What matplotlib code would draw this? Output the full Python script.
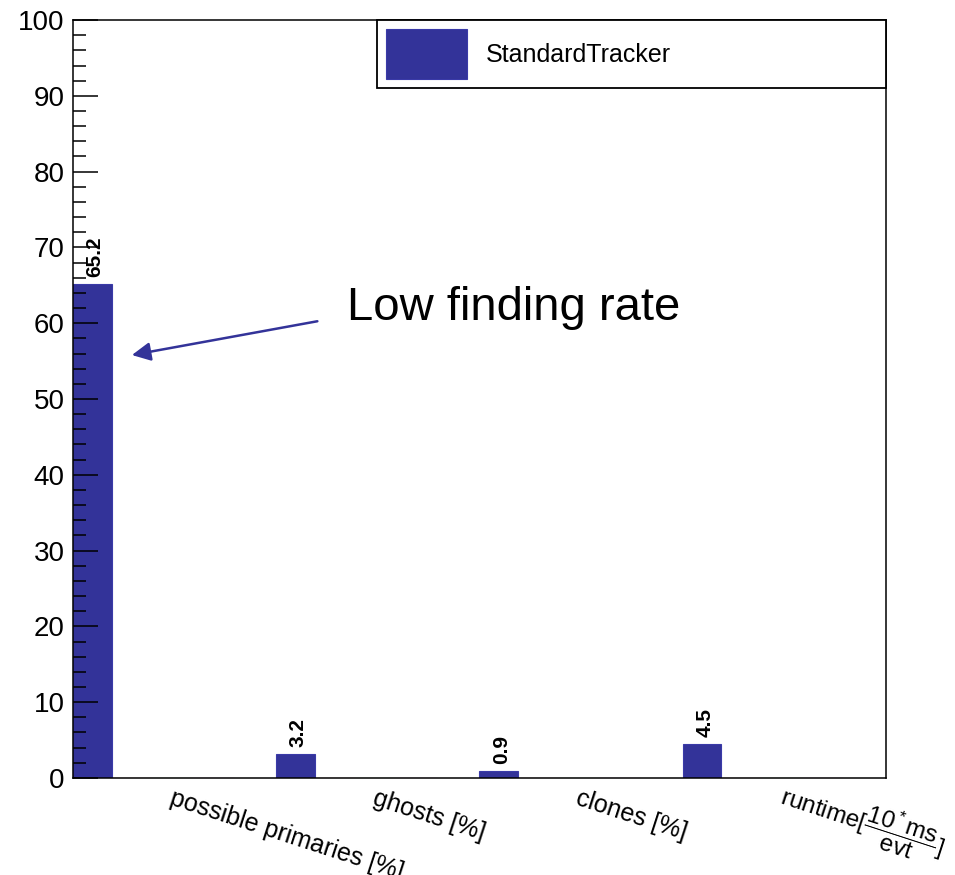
import numpy as np
import matplotlib.pyplot as plt
from matplotlib.ticker import MultipleLocator

plt.rcParams['font.family'] = ['Liberation Sans', 'DejaVu Sans']
plt.rcParams['mathtext.fontset'] = 'custom'
plt.rcParams['mathtext.rm'] = 'Liberation Sans'
plt.rcParams['mathtext.it'] = 'Liberation Sans'

# data
categories = ['possible primaries [%]', 'ghosts [%]', 'clones [%]',
              r'runtime[$\dfrac{\mathrm{10{^*}ms}}{\mathrm{evt}}$]']
standard_tracker = [65.2, 3.2, 0.9, 4.5]
value_labels = ['65.2', '3.2', '0.9', '4.5']
other_trackers = [[0, 0, 0, 0], [0, 0, 0, 0], [0, 0, 0, 0]]
other_colors = ['#cc3333', '#339933', '#993399']

bar_col = '#333399'
x = np.arange(len(categories))
w = 0.19

fig = plt.figure(figsize=(9.55, 8.75), dpi=100)
ax = fig.add_axes([0.0764, 0.1109, 0.8513, 0.8662])

bars = ax.bar(x, standard_tracker, width=w, align='edge', color=bar_col,
              edgecolor='#3a3aa8', linewidth=0.8, label='StandardTracker')
for k, vals in enumerate(other_trackers):
    ax.bar(x + w + 0.2 * k, vals, width=0.2, align='edge', color='none',
           edgecolor=other_colors[k], linewidth=0.8, label='_nolegend_')

for xi, v, s in zip(x, standard_tracker, value_labels):
    ax.annotate(s, (xi + w / 2, v), xytext=(2, 5), textcoords='offset points',
                rotation=90, ha='center', va='bottom', fontsize=15,
                fontweight='bold')

ax.set_xlim(0, 4)
ax.set_ylim(0, 100)
ax.yaxis.set_major_locator(MultipleLocator(10))
ax.yaxis.set_minor_locator(MultipleLocator(2))
ax.tick_params(axis='y', which='major', direction='in', length=18, width=1.1,
               labelsize=20, pad=6)
ax.tick_params(axis='y', which='minor', direction='in', length=9, width=1.1)
ax.set_xticks(x + 0.47)
ax.set_xticklabels(categories, rotation=-18, ha='left', va='baseline',
                   rotation_mode='anchor', fontsize=18)
ax.get_xticklabels()[-1].set_fontsize(17.5)
ax.tick_params(axis='x', length=0, pad=19)
for sp in ax.spines.values():
    sp.set_linewidth(1.1)

leg = ax.legend(handles=[bars], loc='upper left',
                bbox_to_anchor=(0.374, 0.909, 0.626, 0.091), mode='expand',
                borderaxespad=0, fancybox=False, edgecolor='black',
                framealpha=1, fontsize=18, handlelength=3.25, handleheight=2.7,
                handletextpad=0.75, borderpad=0.36)
leg.get_frame().set_linewidth(1.3)

ax.annotate('Low finding rate', xy=(0.29, 55.8), xytext=(1.35, 62.0),
            fontsize=34, ha='left', va='center',
            arrowprops=dict(arrowstyle='-|>', color=bar_col, lw=1.8,
                            mutation_scale=28, shrinkA=0, shrinkB=0,
                            relpos=(-0.09, 0.2)))

fig.savefig('out.png', dpi=100)
